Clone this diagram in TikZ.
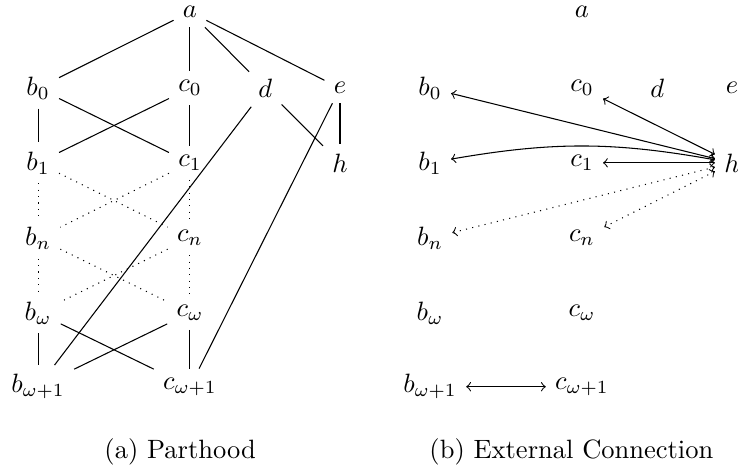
\documentclass[tikz,border=0pt]{standalone}
\begin{document}
\begin{tikzpicture}[x=1cm,y=1cm,
  conn/.style={line width=0.4pt},
  dotconn/.style={line width=0.4pt,dotted},
  ec/.style={<->,line width=0.4pt},
  ecdot/.style={<->,line width=0.4pt,dotted}]
\useasboundingbox (0,0) rectangle (9.79,-6.29);
% ---------- panel (a) ----------
\node (aA)  at (2.52,-0.16) {$a$};
\node (b0A) at (0.505,-1.17) {$b_0$};
\node (c0A) at (2.52,-1.17) {$c_0$};
\node (dA)  at (3.52,-1.17) {$d$};
\node (eA)  at (4.51,-1.17) {$e$};
\node (b1A) at (0.505,-2.16) {$b_1$};
\node (c1A) at (2.52,-2.16) {$c_1$};
\node (hA)  at (4.51,-2.16) {$h$};
\node (bnA) at (0.505,-3.16) {$b_n$};
\node (cnA) at (2.52,-3.16) {$c_n$};
\node (bwA) at (0.505,-4.15) {$b_\omega$};
\node (cwA) at (2.52,-4.15) {$c_\omega$};
\node (bwoA) at (0.505,-5.13) {$b_{\omega+1}$};
\node (cwoA) at (2.52,-5.13) {$c_{\omega+1}$};
\draw[conn] (aA) -- (b0A);
\draw[conn] (aA) -- (c0A);
\draw[conn] (aA) -- (dA);
\draw[conn] (aA) -- (eA);
\draw[conn] (b0A) -- (b1A);
\draw[conn] (b0A) -- (c1A);
\draw[conn] (c0A) -- (b1A);
\draw[conn] (c0A) -- (c1A);
\draw[conn] (dA) -- (hA);
\draw[conn] (eA) -- (hA);
\draw[conn] (dA) -- (bwoA);
\draw[conn] (eA) -- (cwoA);
\draw[dotconn] (b1A) -- (bnA);
\draw[dotconn] (b1A) -- (cnA);
\draw[dotconn] (c1A) -- (bnA);
\draw[dotconn] (c1A) -- (cnA);
\draw[dotconn] (bnA) -- (bwA);
\draw[dotconn] (bnA) -- (cwA);
\draw[dotconn] (cnA) -- (bwA);
\draw[dotconn] (cnA) -- (cwA);
\draw[conn] (bwA) -- (bwoA);
\draw[conn] (bwA) -- (cwoA);
\draw[conn] (cwA) -- (bwoA);
\draw[conn] (cwA) -- (cwoA);
\node (capA) at (2.39,-6.0) {(a) Parthood};
% ---------- panel (b) ----------
\node (aB)  at (7.72,-0.16) {$a$};
\node (b0B) at (5.705,-1.17) {$b_0$};
\node (c0B) at (7.72,-1.17) {$c_0$};
\node (dB)  at (8.72,-1.17) {$d$};
\node (eB)  at (9.71,-1.17) {$e$};
\node (b1B) at (5.705,-2.16) {$b_1$};
\node (c1B) at (7.72,-2.16) {$c_1$};
\node (hB)  at (9.71,-2.16) {$h$};
\node (bnB) at (5.705,-3.16) {$b_n$};
\node (cnB) at (7.72,-3.16) {$c_n$};
\node (bwB) at (5.705,-4.15) {$b_\omega$};
\node (cwB) at (7.72,-4.15) {$c_\omega$};
\node (bwoB) at (5.705,-5.13) {$b_{\omega+1}$};
\node (cwoB) at (7.72,-5.13) {$c_{\omega+1}$};
\draw[ec] (hB) -- (b0B);
\draw[ec] (hB) -- (c0B);
\draw[ec] (hB) to[bend right=10] (b1B);
\draw[ec] (hB) -- (c1B);
\draw[ecdot] (hB) -- (bnB);
\draw[ecdot] (hB) -- (cnB);
\draw[ec] (bwoB) -- (cwoB);
\node (capB) at (7.58,-6.0) {(b) External Connection};
\end{tikzpicture}
\end{document}
